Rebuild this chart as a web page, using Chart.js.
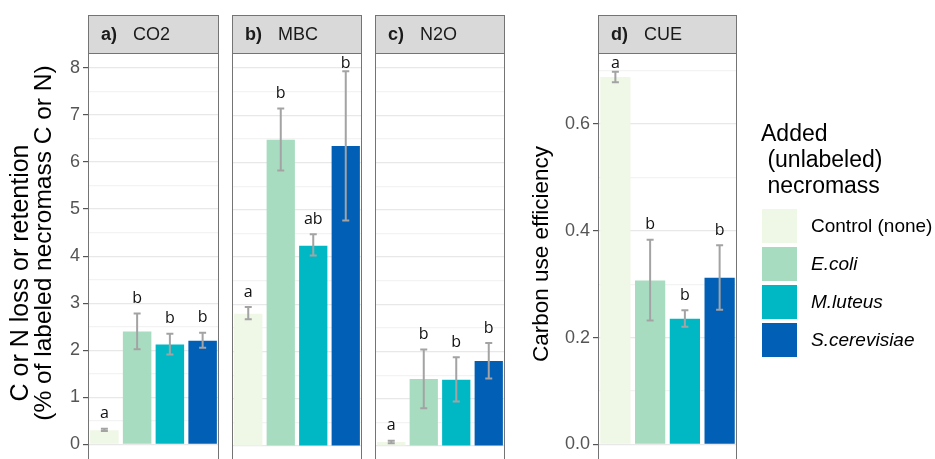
<!DOCTYPE html>
<html><head><meta charset="utf-8">
<script src="https://cdn.jsdelivr.net/npm/chart.js@4.4.1/dist/chart.umd.min.js"></script>
<style>
html,body{margin:0;padding:0;background:#fff;overflow:hidden;}
#wrap{position:relative;width:935px;height:459px;overflow:hidden;background:#fff;}
#wrap canvas{position:absolute;left:0;top:0;}
#legend{position:absolute;left:0;top:0;width:935px;height:459px;font-family:"Liberation Sans",Arial,sans-serif;color:#000;pointer-events:none;}
.lt{position:absolute;white-space:pre;font-size:23px;line-height:26px;}
.lk{position:absolute;width:35px;height:34px;}
.ll{position:absolute;font-size:19px;line-height:34px;white-space:pre;}
</style></head><body>
<div id="wrap">
<canvas id="cA" width="935" height="477"></canvas>
<canvas id="cB" width="935" height="477"></canvas>
<canvas id="cC" width="935" height="477"></canvas>
<canvas id="cD" width="935" height="477"></canvas>
<div id="legend"></div>
</div>
<script>
// ---- data ----
const categories = ['Control (none)', 'E.coli', 'M.luteus', 'S.cerevisiae'];
const italicCats = [false, true, true, true];

const co2Values = [0.30, 2.40, 2.12, 2.20];
const co2Low    = [0.28, 2.02, 1.91, 2.05];
const co2High   = [0.33, 2.78, 2.35, 2.37];
const co2Letters = ['a', 'b', 'b', 'b'];

const mbcValues = [2.80, 6.48, 4.24, 6.35];
const mbcLow    = [2.68, 5.83, 4.03, 4.77];
const mbcHigh   = [2.94, 7.14, 4.48, 7.93];
const mbcLetters = ['a', 'b', 'ab', 'b'];

const n2oValues = [0.085, 1.42, 1.40, 1.80];
const n2oLow    = [0.06, 0.80, 0.94, 1.43];
const n2oHigh   = [0.11, 2.04, 1.88, 2.18];
const n2oLetters = ['a', 'b', 'b', 'b'];

const cueValues = [0.688, 0.307, 0.235, 0.312];
const cueLow    = [0.678, 0.232, 0.220, 0.252];
const cueHigh   = [0.698, 0.383, 0.251, 0.373];
const cueLetters = ['a', 'b', 'b', 'b'];

const pctMajorTicks = [0, 1, 2, 3, 4, 5, 6, 7, 8];
const pctMinorTicks = [0.5, 1.5, 2.5, 3.5, 4.5, 5.5, 6.5, 7.5];
const pctTickLabels = ['0', '1', '2', '3', '4', '5', '6', '7', '8'];
const cueMajorTicks = [0, 0.2, 0.4, 0.6];
const cueMinorTicks = [0.1, 0.3, 0.5, 0.7];
const cueTickLabels = ['0.0', '0.2', '0.4', '0.6'];

const pctRange = [-0.402, 8.317];
const cueRange = [-0.0354, 0.733];

const panelTags   = ['a)', 'b)', 'c)', 'd)'];
const panelTitles = ['CO2', 'MBC', 'N2O', 'CUE'];
const yTitleLeft  = ['C or N loss or retention', '(% of labeled necromass C or N)'];
const yTitleRight = 'Carbon use efficiency';
const legendTitle = ['Added', ' (unlabeled)', ' necromass'];

// ---- style ----
const palette = ['#eff7e7', '#a8dcc0', '#00b8c4', '#015fb5'];
const FONT = '"Liberation Sans", Arial, sans-serif';
const BORDER = '#747474';
const ERR = '#a3a3a3';

function makePanel(id, cfg) {
  const allTicks = cfg.major.concat(cfg.minor).sort((a, b) => a - b);
  const decor = {
    id: 'decor',
    afterDatasetsDraw(chart) {
      const ctx = chart.ctx, y = chart.scales.y, meta = chart.getDatasetMeta(0);
      ctx.save();
      ctx.strokeStyle = ERR; ctx.lineWidth = 2;
      meta.data.forEach((bar, i) => {
        const x = bar.x, yl = y.getPixelForValue(cfg.low[i]), yh = y.getPixelForValue(cfg.high[i]);
        ctx.beginPath();
        ctx.moveTo(x, yl); ctx.lineTo(x, yh);
        ctx.moveTo(x - 3.5, yl); ctx.lineTo(x + 3.5, yl);
        ctx.moveTo(x - 3.5, yh); ctx.lineTo(x + 3.5, yh);
        ctx.stroke();
      });
      ctx.fillStyle = '#111';
      ctx.font = '500 16px "Open Sans", "Noto Sans", sans-serif';
      ctx.textAlign = 'center'; ctx.textBaseline = 'middle';
      meta.data.forEach((bar, i) => {
        let ty = y.getPixelForValue(cfg.high[i]) - 15;
        ty = Math.max(ty, chart.chartArea.top + 10);
        ctx.fillText(cfg.letters[i], bar.x, ty);
      });
      ctx.restore();
    },
    afterDraw(chart) {
      const ctx = chart.ctx, a = chart.chartArea;
      ctx.save();
      ctx.strokeStyle = BORDER; ctx.lineWidth = 1;
      ctx.strokeRect(Math.round(a.left) + 0.5, Math.round(a.top) + 0.5, Math.round(a.right - a.left) - 1, Math.round(a.bottom - a.top) + 10);
      // strip
      const sx = Math.round(a.left) + 0.5, sy = 15.5, sw = Math.round(a.right - a.left) - 1, sh = Math.round(a.top) - 15;
      ctx.fillStyle = '#d9d9d9';
      ctx.fillRect(sx, sy, sw, sh);
      ctx.strokeRect(sx, sy, sw, sh);
      ctx.fillStyle = '#1a1a1a';
      ctx.textBaseline = 'middle'; ctx.textAlign = 'left';
      ctx.font = 'bold 18px ' + FONT;
      ctx.fillText(cfg.tag, a.left + 13, 35);
      const bw = ctx.measureText(cfg.tag).width;
      ctx.font = '18px ' + FONT;
      ctx.fillText(cfg.title, a.left + 13 + bw + 16, 35);
      // axis titles
      ctx.fillStyle = '#000';
      ctx.textAlign = 'center';
      (cfg.yTitles || []).forEach(t => {
        ctx.save();
        ctx.font = t.size + 'px ' + FONT;
        ctx.translate(t.x, t.y);
        ctx.rotate(-Math.PI / 2);
        ctx.fillText(t.text, 0, 0);
        ctx.restore();
      });
      ctx.restore();
    }
  };
  return new Chart(document.getElementById(id), {
    type: 'bar',
    data: {
      labels: categories,
      datasets: [{ data: cfg.values, backgroundColor: palette, borderWidth: 0, barPercentage: 0.87, categoryPercentage: 1 }]
    },
    options: {
      responsive: false, animation: false,
      layout: { padding: { left: cfg.left - cfg.axisW, right: 935 - cfg.right, top: 53, bottom: 12 } },
      plugins: { legend: { display: false }, tooltip: { enabled: false } },
      scales: {
        x: { display: false },
        y: {
          min: cfg.range[0], max: cfg.range[1],
          afterBuildTicks(scale) { scale.ticks = allTicks.map(v => ({ value: v })); },
          afterFit(scale) { scale.width = cfg.axisW; },
          border: { display: false },
          grid: {
            color: c => (c.tick && cfg.minor.includes(c.tick.value)) ? '#f3f3f3' : '#e8e8e8',
            lineWidth: 1.2,
            drawTicks: cfg.axisW > 0,
            tickLength: 5,
            tickColor: c => (c.tick && cfg.minor.includes(c.tick.value)) ? 'rgba(0,0,0,0)' : '#555'
          },
          ticks: {
            display: cfg.axisW > 0, autoSkip: false, padding: 3,
            color: '#555', font: { family: FONT, size: 18 },
            callback: v => { const k = cfg.major.indexOf(v); return k >= 0 ? cfg.tickLabels[k] : ''; }
          }
        }
      }
    },
    plugins: [decor]
  });
}

makePanel('cA', { left: 88, right: 219, axisW: 40, values: co2Values, low: co2Low, high: co2High, letters: co2Letters,
  major: pctMajorTicks, minor: pctMinorTicks, tickLabels: pctTickLabels, range: pctRange, tag: panelTags[0], title: panelTitles[0],
  yTitles: [{ text: yTitleLeft[0], x: 21, y: 273, size: 25 }, { text: yTitleLeft[1], x: 44, y: 243, size: 24.5 }] });
makePanel('cB', { left: 232, right: 362, axisW: 0, values: mbcValues, low: mbcLow, high: mbcHigh, letters: mbcLetters,
  major: pctMajorTicks, minor: pctMinorTicks, tickLabels: pctTickLabels, range: pctRange, tag: panelTags[1], title: panelTitles[1] });
makePanel('cC', { left: 375, right: 505, axisW: 0, values: n2oValues, low: n2oLow, high: n2oHigh, letters: n2oLetters,
  major: pctMajorTicks, minor: pctMinorTicks, tickLabels: pctTickLabels, range: pctRange, tag: panelTags[2], title: panelTitles[2] });
makePanel('cD', { left: 598, right: 737, axisW: 40, values: cueValues, low: cueLow, high: cueHigh, letters: cueLetters,
  major: cueMajorTicks, minor: cueMinorTicks, tickLabels: cueTickLabels, range: cueRange, tag: panelTags[3], title: panelTitles[3],
  yTitles: [{ text: yTitleRight, x: 542, y: 254, size: 22.5 }] });

// ---- legend ----
const lg = document.getElementById('legend');
let html = '';
html += '<div class="lt" style="left:761px;top:120px;">' + legendTitle.join('\n') + '</div>';
categories.forEach((c, i) => {
  const top = 209 + i * 38;
  html += '<div class="lk" style="left:762px;top:' + top + 'px;background:' + palette[i] + ';"></div>';
  html += '<div class="ll" style="left:811px;top:' + top + 'px;font-style:' + (italicCats[i] ? 'italic' : 'normal') + ';">' + c + '</div>';
});
lg.innerHTML = html;
</script>
</body></html>
